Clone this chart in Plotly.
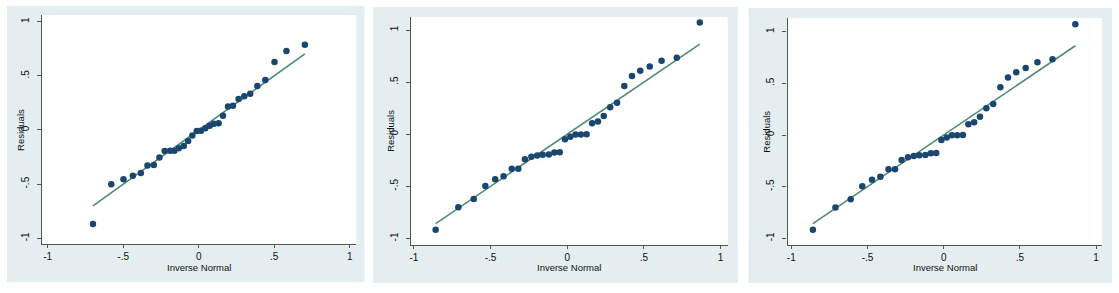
import plotly.graph_objects as go

W, H = 1119, 293

# ---- data ----
p1_x = [-0.700, -0.579, -0.498, -0.436, -0.383, -0.339, -0.297, -0.260, -0.225, -0.189,
        -0.161, -0.132, -0.099, -0.070, -0.042, -0.013, 0.015, 0.044, 0.073, 0.101,
        0.132, 0.161, 0.194, 0.227, 0.264, 0.302, 0.341, 0.388, 0.441, 0.502, 0.581, 0.703]
p1_y = [-0.868, -0.502, -0.455, -0.422, -0.397, -0.329, -0.323, -0.255, -0.194, -0.191,
        -0.191, -0.169, -0.148, -0.102, -0.052, -0.009, -0.006, 0.015, 0.040, 0.058,
        0.062, 0.132, 0.218, 0.225, 0.286, 0.311, 0.335, 0.406, 0.462, 0.628, 0.729, 0.788]

p2_x = [-0.858, -0.710, -0.610, -0.534, -0.470, -0.415, -0.362, -0.319, -0.276, -0.234,
        -0.196, -0.160, -0.120, -0.084, -0.049, -0.015, 0.020, 0.054, 0.089, 0.126,
        0.162, 0.200, 0.238, 0.280, 0.325, 0.372, 0.422, 0.476, 0.538, 0.615, 0.714, 0.864]
p2_y = [-0.917, -0.701, -0.621, -0.496, -0.432, -0.403, -0.332, -0.332, -0.241, -0.216,
        -0.203, -0.196, -0.194, -0.176, -0.173, -0.048, -0.025, -0.003, -0.003, 0.001,
        0.105, 0.123, 0.176, 0.258, 0.301, 0.463, 0.558, 0.608, 0.650, 0.705, 0.733, 1.072]

p3_x = p2_x
p3_y = p2_y

x_ticks = [-1, -0.5, 0, 0.5, 1]
x_tick_text = ["-1", "-.5", "0", ".5", "1"]
y_ticks = [-1, -0.5, 0, 0.5, 1]
y_tick_text = ["-1", "-.5", "0", ".5", "1"]
x_title = "Inverse Normal"
y_title = "Residuals"

panels = [
    dict(x=p1_x, y=p1_y, plot=(40, 355, 15, 244), bg=(5, 363, 6, 282),
         xr=[-1.038, 1.044], yr=[-1.053, 1.062]),
    dict(x=p2_x, y=p2_y, plot=(410, 727, 17, 245), bg=(372, 737, 7, 283),
         xr=[-1.017, 1.046], yr=[-1.063, 1.125]),
    dict(x=p3_x, y=p3_y, plot=(787, 1102, 18, 245), bg=(748, 1112, 8, 283),
         xr=[-1.024, 1.039], yr=[-1.065, 1.133]),
]

MARKER = "#1a476f"
LINE = "#4e8a73"
BG = "#e4edf0"
AXIS = "#555555"
FONT = dict(family="Liberation Sans, Arial, sans-serif", size=10, color="#111111")
TFONT = dict(family="Liberation Sans, Arial, sans-serif", size=9.5, color="#111111")


def prect(x0, x1, y0, y1, color):
    return dict(type="rect", xref="paper", yref="paper", layer="below",
                x0=x0 / W, x1=x1 / W, y0=1 - y1 / H, y1=1 - y0 / H,
                fillcolor=color, line=dict(width=0))


fig = go.Figure()
shapes = []
annotations = []
for i, p in enumerate(panels):
    sfx = "" if i == 0 else str(i + 1)
    xa, ya = "x" + sfx, "y" + sfx
    x0, x1, y0, y1 = p["plot"]
    bx0, bx1, by0, by1 = p["bg"]
    # graph-region frame around the white plot region
    shapes.append(prect(bx0, x0, by0, by1, BG))
    shapes.append(prect(x1, bx1, by0, by1, BG))
    shapes.append(prect(bx0, bx1, by0, y0, BG))
    shapes.append(prect(bx0, bx1, y1, by1, BG))
    # reference line y = x over the range of the data
    lo, hi = min(p["x"]), max(p["x"])
    fig.add_trace(go.Scatter(x=[lo, hi], y=[lo, hi], mode="lines",
                             line=dict(color=LINE, width=1.6),
                             xaxis=xa, yaxis=ya, showlegend=False, hoverinfo="skip"))
    fig.add_trace(go.Scatter(x=p["x"], y=p["y"], mode="markers",
                             marker=dict(color=MARKER, size=6.5, line=dict(width=0)),
                             xaxis=xa, yaxis=ya, showlegend=False))
    xkey = "xaxis" + sfx
    ykey = "yaxis" + sfx
    fig.update_layout(**{
        xkey: dict(domain=[x0 / W, x1 / W], range=p["xr"], anchor=ya,
                   tickvals=x_ticks, ticktext=x_tick_text, ticks="outside",
                   ticklen=3, tickcolor=AXIS, tickwidth=1,
                   showline=True, linecolor=AXIS, linewidth=1.2,
                   showgrid=False, zeroline=False, tickfont=FONT),
        ykey: dict(domain=[1 - y1 / H, 1 - y0 / H], range=p["yr"], anchor=xa,
                   tickvals=y_ticks, ticktext=y_tick_text, ticks="outside",
                   ticklen=4, tickcolor=AXIS, tickwidth=1, tickangle=-90,
                   ticklabelstandoff=4,
                   showline=True, linecolor=AXIS, linewidth=1.2,
                   showgrid=False, zeroline=False, tickfont=FONT),
    })
    annotations.append(dict(text=x_title, xref="paper", yref="paper",
                            x=(x0 + x1) / 2 / W, y=1 - 267.5 / H,
                            xanchor="center", yanchor="middle", showarrow=False,
                            font=TFONT))
    annotations.append(dict(text=y_title, xref="paper", yref="paper",
                            x=(x0 - 21.5) / W, y=1 - ((y0 + y1) / 2) / H,
                            xanchor="center", yanchor="middle", showarrow=False,
                            textangle=-90, font=TFONT))

fig.update_layout(width=W, height=H, margin=dict(l=0, r=0, t=0, b=0),
                  paper_bgcolor="#ffffff", plot_bgcolor="#ffffff", shapes=shapes,
                  annotations=annotations, showlegend=False)
fig.write_html("out.html", config={"displayModeBar": False},
               post_script="document.body.style.margin='0';document.body.style.padding='0';")
